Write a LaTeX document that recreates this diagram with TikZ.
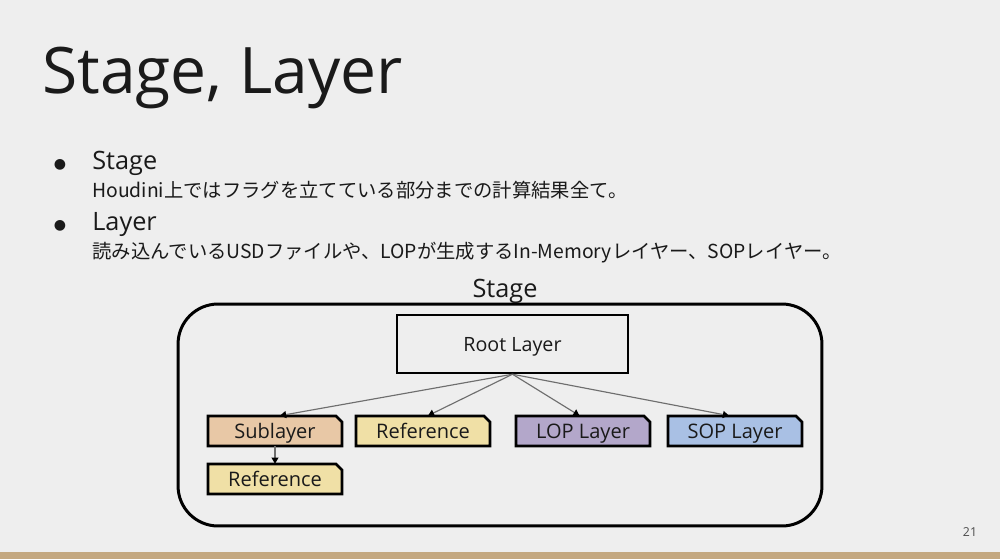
\documentclass[tikz,border=0pt]{standalone}
\usepackage{fontspec}
\setmainfont{Open Sans}
\newfontfamily\jpfont{Noto Sans CJK JP}
\newfontfamily\symfont{DejaVu Sans}
\usetikzlibrary{arrows.meta}
\definecolor{slidebg}{HTML}{EEEEEE}
\definecolor{slideink}{HTML}{1A1A1A}
\definecolor{slidebar}{HTML}{C4A880}
\definecolor{linkgray}{HTML}{6E6E6E}
\definecolor{subfill}{HTML}{E8C8A6}
\definecolor{reffill}{HTML}{F0E0A6}
\definecolor{lopfill}{HTML}{B3A7CA}
\definecolor{sopfill}{HTML}{A9C0E4}
\newcommand{\layerbox}[4]{%
  \filldraw[layeredge, fill=#3]
    ([shift={(-67,-15)}]#2) -- ([shift={(61,-15)}]#2) -- ([shift={(67,-9)}]#2)
    -- ([shift={(67,15)}]#2) -- ([shift={(-67,15)}]#2) -- cycle;
  \node[layertext] (#1) at (#2) {#4};}

\begin{document}
\begin{tikzpicture}[
  x=0.02cm,
  y=-0.02cm,
  every node/.style={inner sep=0pt, text=slideink},
  heading/.style={anchor=base west, font=\fontsize{36.5}{42}\selectfont},
  item/.style={anchor=base west, font=\fontsize{14.4}{17}\selectfont},
  itemdot/.style={anchor=base, font=\symfont\fontsize{8}{10}\selectfont},
  note/.style={anchor=base west, font=\jpfont\fontsize{11}{13}\selectfont},
  stageframe/.style={draw=black, line width=1.7pt, rounded corners=0.8cm,
                     minimum width=12.88cm, minimum height=4.44cm},
  rootbox/.style={draw=black, line width=1.4pt, fill=slidebg,
                  minimum width=4.62cm, minimum height=1.16cm, text depth=0pt,
                  font=\fontsize{11.2}{13}\selectfont},
  layeredge/.style={draw=black, line width=1.5pt, line join=miter},
  layertext/.style={minimum width=2.68cm, minimum height=0.6cm, text depth=0pt,
                    font=\fontsize{11.4}{13}\selectfont},
  link/.style={linkgray, line width=0.65pt,
               -{Triangle[length=3.5pt, width=4pt, black]}}
]
  % ---- slide ------------------------------------------------------------
  \useasboundingbox (0,0) rectangle (1000,559);
  \fill[slidebg] (0,0) rectangle (1000,559);
  \fill[slidebar] (0,552) rectangle (1000,559);

  % ---- title and bullets ------------------------------------------------
  \node[heading] (title) at (42,93) {Stage, Layer};
  \node[itemdot] (dotstage) at (60,168) {●};
  \node[item] (stageitem) at (92,169) {Stage};
  \node[note] (stagenote) at (92,197)
    {Houdini上ではフラグを立てている部分までの計算結果全て。};
  \node[itemdot] (dotlayer) at (60,229) {●};
  \node[item] (layeritem) at (92,230) {Layer};
  \node[note] (layernote) at (92,258)
    {読み込んでいるUSDファイルや、LOPが生成するIn-Memoryレイヤー、SOPレイヤー。};

  % ---- stage frame --------------------------------------------------------
  \node[stageframe] (stage) at (500,415) {};
  \node[item, anchor=base] (stagelabel) at (505,297) {Stage};

  % ---- layers ------------------------------------------------------------
  \node[rootbox] (root) at (512.5,344) {Root Layer};
  \layerbox{sublayer}{275,431}{subfill}{Sublayer}
  \layerbox{refone}{423,431}{reffill}{Reference}
  \layerbox{lop}{583,431}{lopfill}{LOP Layer}
  \layerbox{sop}{735,431}{sopfill}{SOP Layer}
  \layerbox{reftwo}{275,479}{reffill}{Reference}

  % ---- links -------------------------------------------------------------
  \draw[link] (root.south) -- ([xshift=0.1cm]sublayer.north);
  \draw[link] (root.south) -- ([xshift=0.1cm]refone.north);
  \draw[link] (root.south) -- ([xshift=-0.07cm]lop.north);
  \draw[link] (root.south) -- ([xshift=-0.12cm]sop.north);
  \draw[link] (sublayer.south) -- (reftwo.north);

  % ---- page number -------------------------------------------------------
  \node[anchor=base, text=black!70, font=\fontsize{7}{8}\selectfont]
    (pageno) at (970,536) {21};

\end{tikzpicture}
\end{document}
